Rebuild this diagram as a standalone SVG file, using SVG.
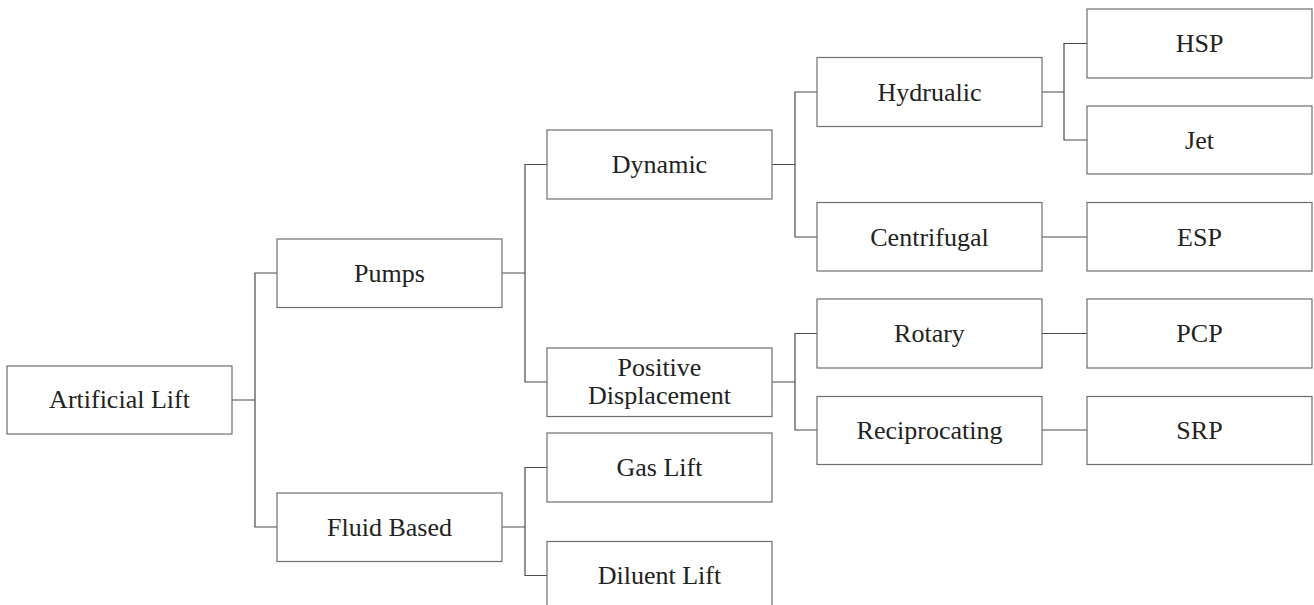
<svg xmlns="http://www.w3.org/2000/svg" width="1314" height="605" viewBox="0 0 1314 605">
  <style>
    .box { fill: #ffffff; stroke: #6e6e6e; stroke-width: 1.2; }
    .lbl { font-family: "Liberation Serif", "Times New Roman", serif; font-size: 26px; fill: #222222; text-anchor: middle; }
    .wire { fill: none; stroke: #4a4a4a; stroke-width: 1.2; }
  </style>
  <rect width="1314" height="605" fill="#ffffff"/>

  <!-- connectors -->
  <g id="connectors" class="wire">
    <path d="M232,400 H255 M277,273 H255 V527 H277"/>
    <path d="M502,273 H525 M547,164.5 H525 V382 H547"/>
    <path d="M502,527 H525 M547,467.5 H525 V575.5 H547"/>
    <path d="M772,164.5 H795 M817,92 H795 V237 H817"/>
    <path d="M772,382 H795 M817,333.5 H795 V430 H817"/>
    <path d="M1042,92 H1064 M1087,43.5 H1064 V140 H1087"/>
    <path d="M1042,237 H1087"/>
    <path d="M1042,333.5 H1087"/>
    <path d="M1042,430 H1087"/>
  </g>

  <!-- level 0 -->
  <g id="artificial-lift">
    <rect class="box" x="7" y="366" width="225" height="68"/>
    <text class="lbl" x="119.5" y="408">Artificial Lift</text>
  </g>

  <!-- level 1 -->
  <g id="pumps">
    <rect class="box" x="277" y="239" width="225" height="68.5"/>
    <text class="lbl" x="389.5" y="281.5">Pumps</text>
  </g>
  <g id="fluid-based">
    <rect class="box" x="277" y="493" width="225" height="68.5"/>
    <text class="lbl" x="389.5" y="535.5">Fluid Based</text>
  </g>

  <!-- level 2 -->
  <g id="dynamic">
    <rect class="box" x="547" y="130" width="225" height="69"/>
    <text class="lbl" x="659.5" y="173">Dynamic</text>
  </g>
  <g id="positive-displacement">
    <rect class="box" x="547" y="348" width="225" height="68.5"/>
    <text class="lbl" x="659.5" y="376">Positive</text>
    <text class="lbl" x="659.5" y="404">Displacement</text>
  </g>
  <g id="gas-lift">
    <rect class="box" x="547" y="433" width="225" height="69"/>
    <text class="lbl" x="659.5" y="476">Gas Lift</text>
  </g>
  <g id="diluent-lift">
    <rect class="box" x="547" y="541.5" width="225" height="69"/>
    <text class="lbl" x="659.5" y="584">Diluent Lift</text>
  </g>

  <!-- level 3 -->
  <g id="hydrualic">
    <rect class="box" x="817" y="57.5" width="225" height="69"/>
    <text class="lbl" x="929.5" y="100.5">Hydrualic</text>
  </g>
  <g id="centrifugal">
    <rect class="box" x="817" y="202.5" width="225" height="68.5"/>
    <text class="lbl" x="929.5" y="245.5">Centrifugal</text>
  </g>
  <g id="rotary">
    <rect class="box" x="817" y="299" width="225" height="69"/>
    <text class="lbl" x="929.5" y="342">Rotary</text>
  </g>
  <g id="reciprocating">
    <rect class="box" x="817" y="396.5" width="225" height="68"/>
    <text class="lbl" x="929.5" y="438.5">Reciprocating</text>
  </g>

  <!-- level 4 -->
  <g id="hsp">
    <rect class="box" x="1087" y="9" width="225" height="69"/>
    <text class="lbl" x="1199.5" y="52">HSP</text>
  </g>
  <g id="jet">
    <rect class="box" x="1087" y="106" width="225" height="68"/>
    <text class="lbl" x="1199.5" y="148.5">Jet</text>
  </g>
  <g id="esp">
    <rect class="box" x="1087" y="202.5" width="225" height="68.5"/>
    <text class="lbl" x="1199.5" y="245.5">ESP</text>
  </g>
  <g id="pcp">
    <rect class="box" x="1087" y="299" width="225" height="69"/>
    <text class="lbl" x="1199.5" y="342">PCP</text>
  </g>
  <g id="srp">
    <rect class="box" x="1087" y="396.5" width="225" height="68"/>
    <text class="lbl" x="1199.5" y="438.5">SRP</text>
  </g>
</svg>
